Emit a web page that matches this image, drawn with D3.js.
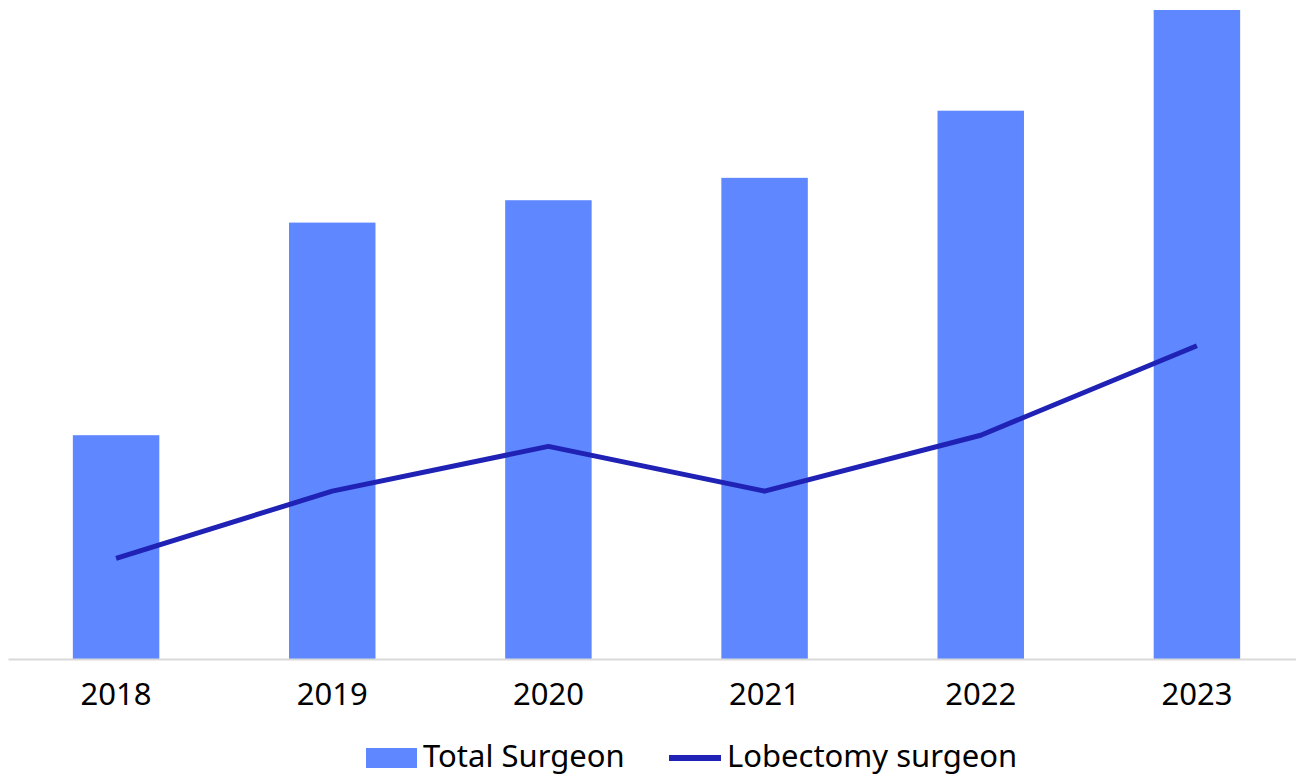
<!DOCTYPE html>
<html>
<head>
<meta charset="utf-8">
<script src="https://cdn.jsdelivr.net/npm/d3@7"></script>
<style>
  body { margin: 0; background: #fff; }
  svg { display: block; font-family: "Noto Sans", "Open Sans", sans-serif; }
</style>
</head>
<body>
<div id="chart"></div>
<script>
// Chart data
const years = ["2018", "2019", "2020", "2021", "2022", "2023"];
const totalSurgeon = [20, 39, 41, 43, 49, 58];
const lobectomySurgeon = [9, 15, 19, 15, 20, 28];
const seriesNames = ["Total Surgeon", "Lobectomy surgeon"];

const width = 1296, height = 776;
const margins = {top: 10, right: -9, bottom: 117, left: 8};

const barColor = "#5f87ff";
const lineColor = "#1f22b5";

const svg = d3.select("#chart")
  .append("svg")
  .attr("width", width)
  .attr("height", height);

const data = years.map((y, i) => ({year: y, total: totalSurgeon[i], lobe: lobectomySurgeon[i]}));

const xScale = d3.scaleBand()
  .domain(years)
  .range([margins.left, width - margins.right])
  .paddingInner(0.6)
  .paddingOuter(0.3);

const yScale = d3.scaleLinear()
  .domain([0, 58])
  .range([height - margins.bottom, margins.top]);

// bars
svg.append("g")
  .selectAll("rect")
  .data(data)
  .join("rect")
    .attr("x", d => xScale(d.year))
    .attr("y", d => yScale(d.total))
    .attr("width", xScale.bandwidth())
    .attr("height", d => yScale(0) - yScale(d.total))
    .attr("fill", barColor);

// x axis
const xGroup = svg.append("g")
    .attr("transform", `translate(0,${yScale(0)})`)
  .call(d3.axisBottom(xScale).tickSize(0).tickPadding(24));

xGroup.select(".domain")
  .attr("stroke", "#d9d9d9")
  .attr("stroke-width", 2);

xGroup.selectAll("text")
  .attr("fill", "#000")
  .style("font-family", "'Noto Sans', sans-serif")
  .style("font-size", "31px");

// line
const line = d3.line()
  .x(d => xScale(d.year) + xScale.bandwidth() / 2)
  .y(d => yScale(d.lobe));

svg.append("path")
  .datum(data)
  .attr("d", line)
  .attr("fill", "none")
  .attr("stroke", lineColor)
  .attr("stroke-width", 5)
  .attr("stroke-linejoin", "round");

// legend
const legend = svg.append("g")
  .style("font-size", "31px");

const leg1 = legend.append("g").attr("transform", "translate(366,748)");
leg1.append("rect")
  .attr("width", 51)
  .attr("height", 20)
  .attr("fill", barColor);
leg1.append("text")
  .attr("x", 57)
  .attr("y", 19)
  .text(seriesNames[0]);

const leg2 = legend.append("g").attr("transform", "translate(669,748)");
leg2.append("line")
  .attr("x1", 0).attr("x2", 52)
  .attr("y1", 10).attr("y2", 10)
  .attr("stroke", lineColor)
  .attr("stroke-width", 6);
leg2.append("text")
  .attr("x", 58)
  .attr("y", 19)
  .text(seriesNames[1]);
</script>
</body>
</html>
